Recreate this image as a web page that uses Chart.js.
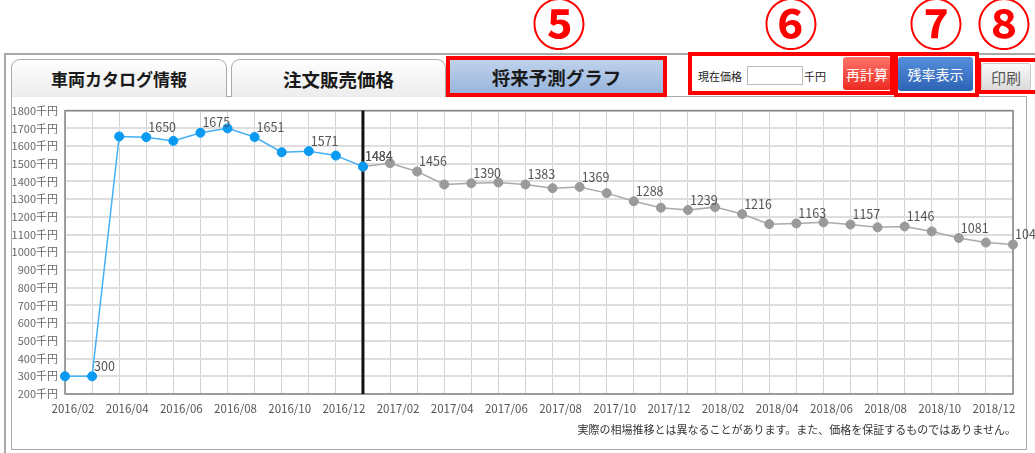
<!DOCTYPE html>
<html lang="ja">
<head>
<meta charset="utf-8">
<title>将来予測グラフ</title>
<script src="https://cdn.jsdelivr.net/npm/chart.js@4/dist/chart.umd.min.js"></script>
<style>
  body { margin: 0; width: 1035px; height: 453px; overflow: hidden; background: #fff;
         font-family: "Noto Sans CJK JP", "Noto Sans", sans-serif; position: relative; }
  .abs { position: absolute; box-sizing: border-box; }
  .outer { left: 4px; top: 53px; width: 1040px; height: 420px; border: 2px solid #a8a8a8; }
  .panel { left: 11px; top: 96px; width: 1016px; height: 354px; border: 1px solid #aaa; }
  .tab { top: 59px; height: 38px; border: 1px solid #aaa; border-bottom: none; border-radius: 9px 9px 0 0;
         background: linear-gradient(#ffffff, #ececec); font-weight: 700; font-size: 18.5px; color: #1a1a1a;
         display: flex; align-items: center; justify-content: center; }
  .tab.active { top: 57px; height: 40px; border-radius: 0; border: none;
                background: linear-gradient(#c3d4ec, #93b2dc); }
  .redbox { border: 4px solid #ff0000; }
  .num { color: #ff0000; font-size: 54px; font-weight: 700; line-height: 1; width: 60px; text-align: center; }
  .btn { display: flex; align-items: center; justify-content: center; font-size: 14px; border-radius: 3px; }
  .small { font-size: 11px; color: #222; }
  .note { right: 19px; top: 421px; font-size: 11px; color: #333; white-space: nowrap; }
  #wrap { left: 12px; top: 97px; width: 1023px; height: 326px; }
</style>
</head>
<body>
<div class="abs outer"></div>
<div class="abs panel"></div>

<div class="abs tab" style="left:11px; width:216px; font-size:17px;">車両カタログ情報</div>
<div class="abs tab" style="left:231px; width:215px;">注文販売価格</div>
<div class="abs tab active" style="left:446px; width:221px;">将来予測グラフ</div>
<div class="abs redbox" style="left:446px; top:56px; width:221px; height:41px;"></div>

<div class="abs small" style="left:698px; top:68px;">現在価格</div>
<div class="abs" style="left:747px; top:66px; width:56px; height:19px; border:1px solid #bbb; background:#fff;"></div>
<div class="abs small" style="left:804px; top:68px;">千円</div>
<div class="abs btn" style="left:843px; top:57px; width:48px; height:33px; color:#fff; background:linear-gradient(#ff7468, #ec2a22);">再計算</div>
<div class="abs redbox" style="left:688px; top:52px; width:206px; height:43px;"></div>

<div class="abs btn" style="left:898px; top:57px; width:75px; height:34px; color:#fff; background:linear-gradient(#5690dc, #2c62b4);">残率表示</div>
<div class="abs redbox" style="left:894px; top:52px; width:85px; height:45px;"></div>

<div class="abs btn" style="left:981px; top:63px; width:50px; height:28px; color:#555; font-size:15px; border:1px solid #c8c8c8; background:linear-gradient(#fafafa, #dadada);">印刷</div>
<div class="abs redbox" style="left:977px; top:58px; width:62px; height:36px;"></div>

<div class="abs num" style="left:529px; top:-5px;">⑤</div>
<div class="abs num" style="left:761px; top:-5px;">⑥</div>
<div class="abs num" style="left:906px; top:-5px;">⑦</div>
<div class="abs num" style="left:974px; top:-5px;">⑧</div>

<div class="abs" id="wrap"><canvas id="forecast-chart"></canvas></div>
<div class="abs note">実際の相場推移とは異なることがあります。また、価格を保証するものではありません。</div>

<script>
// months on the x axis (one point per month)
const months = [
  '2016/02', '2016/03', '2016/04', '2016/05', '2016/06', '2016/07',
  '2016/08', '2016/09', '2016/10', '2016/11', '2016/12', '2017/01',
  '2017/02', '2017/03', '2017/04', '2017/05', '2017/06', '2017/07',
  '2017/08', '2017/09', '2017/10', '2017/11', '2017/12', '2018/01',
  '2018/02', '2018/03', '2018/04', '2018/05', '2018/06', '2018/07',
  '2018/08', '2018/09', '2018/10', '2018/11', '2018/12', '2019/01'
];

// past prices (千円)
const actualPrices = [
  300, 300, 1654, 1650, 1629, 1675, 1700, 1651, 1565, 1571, 1546, 1484,
  null, null, null, null, null, null, null, null, null, null, null, null,
  null, null, null, null, null, null, null, null, null, null, null, null
];

// forecast prices (千円)
const forecastPrices = [
  null, null, null, null, null, null, null, null, null, null, null, 1484,
  1503, 1456, 1383, 1390, 1394, 1383, 1362, 1369, 1334, 1288, 1252, 1239,
  1255, 1216, 1159, 1163, 1169, 1157, 1141, 1146, 1118, 1081, 1055, 1044
];

const yTicks = { min: 200, max: 1800, step: 100, unit: '千円' };
const forecastStart = 11; // index of the black divider

Chart.defaults.font.family = '"Noto Sans CJK JP", "Noto Sans", sans-serif';

// divider, plot frame and value labels
const markerPlugin = {
  id: 'markers',
  beforeDatasetsDraw(chart) {
    const { ctx, chartArea, scales } = chart;
    ctx.save();
    ctx.strokeStyle = '#858585';
    ctx.lineWidth = 1.5;
    ctx.strokeRect(chartArea.left, chartArea.top, chartArea.right - chartArea.left, chartArea.bottom - chartArea.top);
    const x = scales.x.getPixelForValue(forecastStart);
    ctx.strokeStyle = '#111';
    ctx.lineWidth = 3;
    ctx.beginPath();
    ctx.moveTo(x, chartArea.top);
    ctx.lineTo(x, chartArea.bottom);
    ctx.stroke();
    ctx.restore();
  },
  afterDatasetsDraw(chart) {
    const ctx = chart.ctx;
    ctx.save();
    ctx.font = '12.5px "Noto Sans CJK JP", "Noto Sans", sans-serif';
    ctx.fillStyle = '#555';
    ctx.textAlign = 'left';
    ctx.textBaseline = 'middle';
    chart.data.datasets.forEach((ds, di) => {
      const meta = chart.getDatasetMeta(di);
      meta.data.forEach((pt, i) => {
        if (i % 2 === 1 && ds.data[i] != null) {
          ctx.fillText(ds.data[i], pt.x + 2, pt.y - 10);
        }
      });
    });
    ctx.restore();
  }
};

new Chart(document.getElementById('forecast-chart'), {
  type: 'line',
  data: {
    labels: months,
    datasets: [{
      label: '実績',
      data: actualPrices,
      borderColor: '#45b0f6',
      borderWidth: 1.5,
      pointBackgroundColor: '#0a9af2',
      pointBorderColor: '#0a9af2',
      pointRadius: 4.5,
      pointBorderWidth: 1,
      tension: 0
    }, {
      label: '予測',
      data: forecastPrices,
      borderColor: '#aaaaaa',
      borderWidth: 1.5,
      pointBackgroundColor: '#9a9a9a',
      pointBorderColor: '#9a9a9a',
      pointRadius: 4.5,
      pointBorderWidth: 1,
      tension: 0
    }]
  },
  options: {
    responsive: true,
    maintainAspectRatio: false,
    animation: false,
    layout: { padding: { top: 12, right: 22, left: 0, bottom: 0 } },
    plugins: {
      legend: { display: false },
      tooltip: { enabled: false }
    },
    scales: {
      x: {
        grid: { color: '#d2d2d2', lineWidth: 1, drawTicks: false },
        border: { display: false },
        ticks: {
          autoSkip: false,
          maxRotation: 0,
          padding: 8,
          labelOffset: 8,
          color: '#555',
          font: { size: 11.5 },
          callback: (v, i) => (i % 2 === 0 ? months[i] : '')
        },
        afterFit: s => { s.height = 29; }
      },
      y: {
        min: yTicks.min,
        max: yTicks.max,
        grid: { color: '#dedede', lineWidth: 2, drawTicks: false },
        border: { display: false },
        ticks: {
          stepSize: yTicks.step,
          padding: 7,
          color: '#666',
          font: { size: 11 },
          callback: v => v + yTicks.unit
        },
        afterFit: s => { s.width = 53; }
      }
    }
  },
  plugins: [markerPlugin]
});
</script>
</body>
</html>
